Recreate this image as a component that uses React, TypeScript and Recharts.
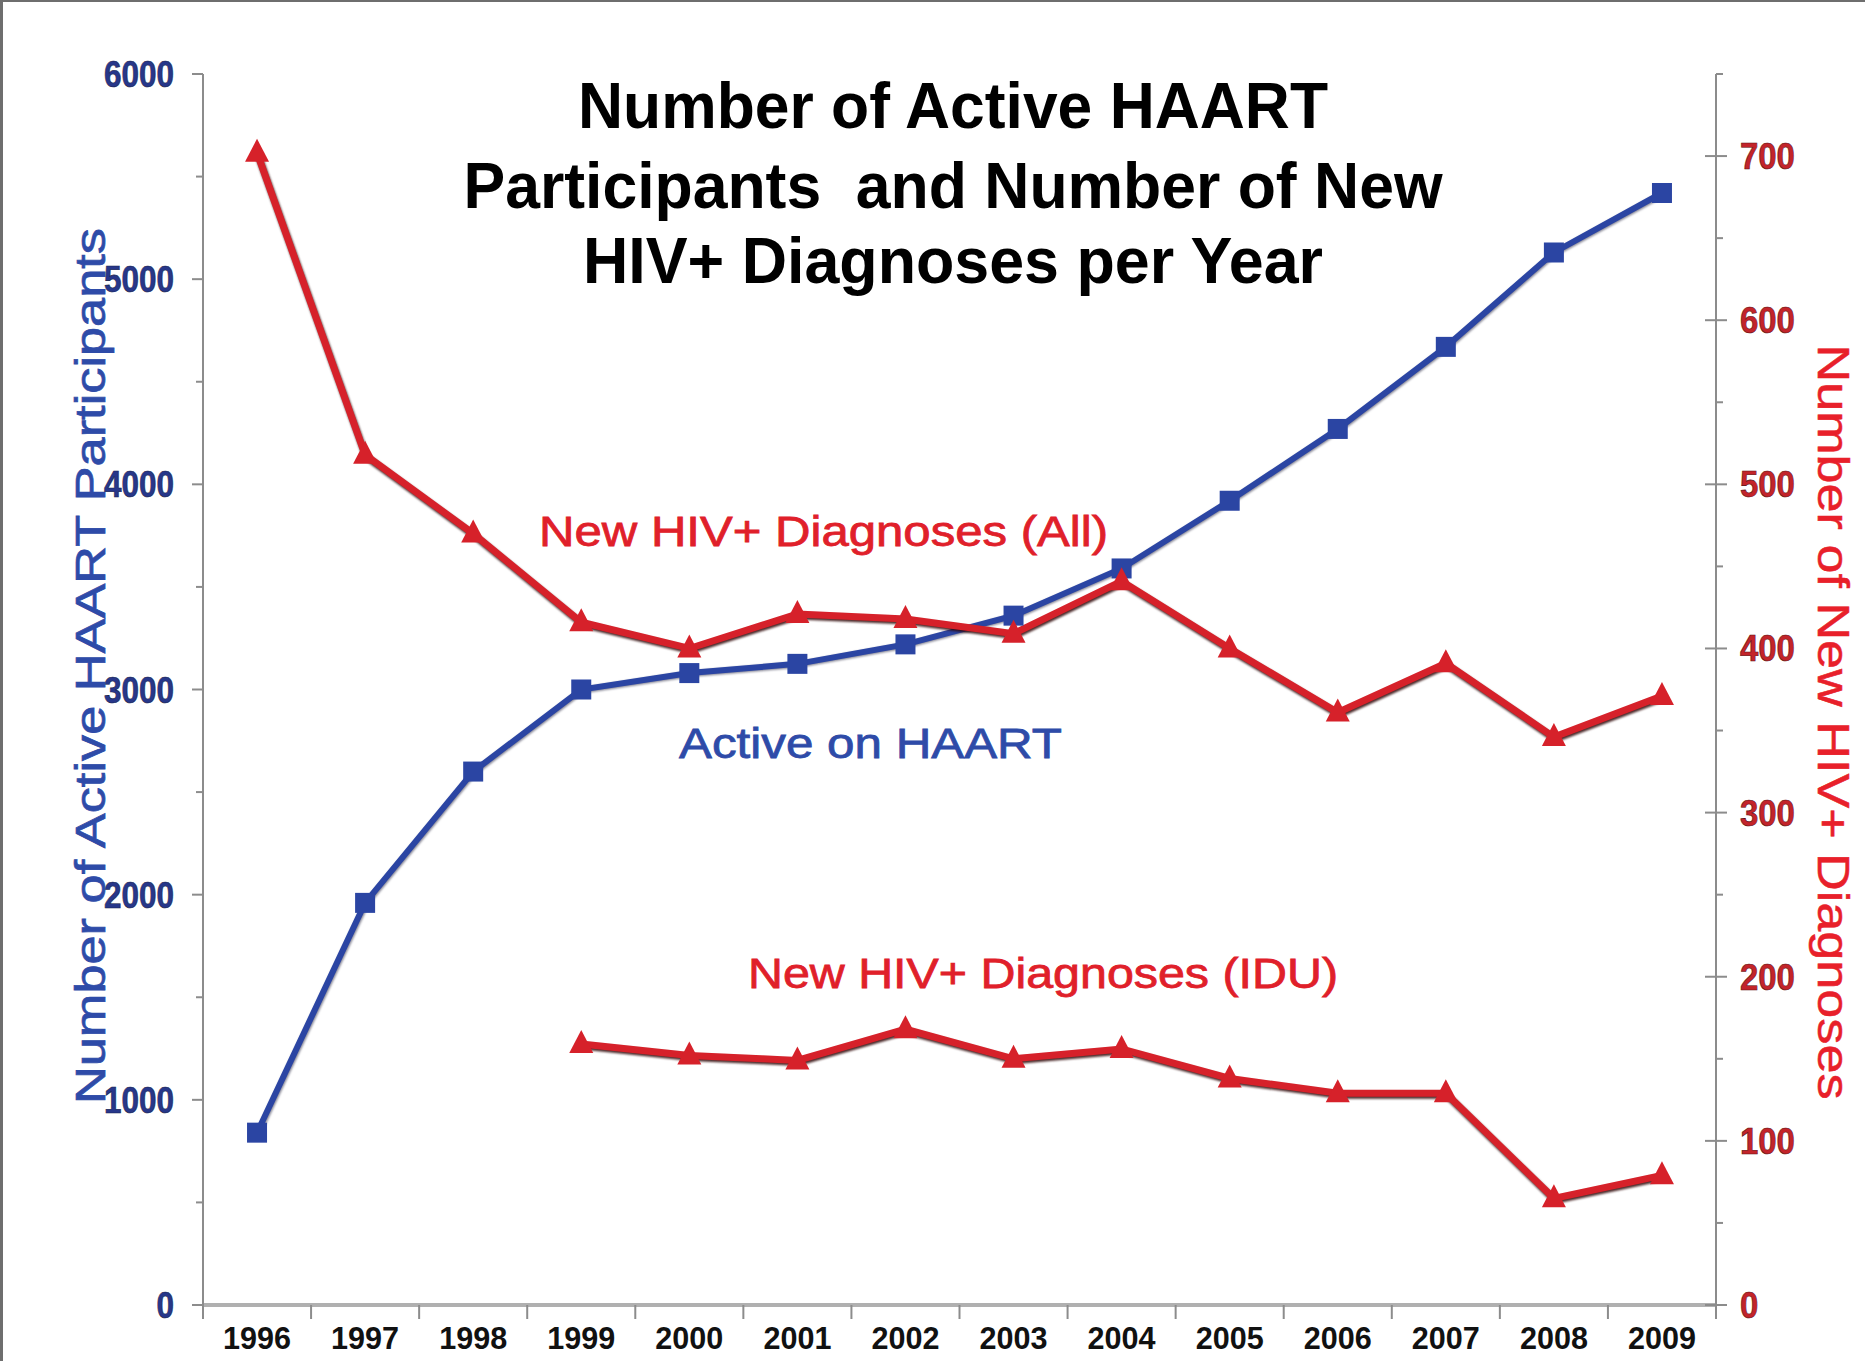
import React from 'react';
import { LineChart, Line, XAxis, YAxis } from 'recharts';

const years = [1996, 1997, 1998, 1999, 2000, 2001, 2002, 2003, 2004, 2005, 2006, 2007, 2008, 2009];
const activeOnHaart = [840, 1960, 2600, 3000, 3080, 3125, 3220, 3360, 3590, 3920, 4270, 4670, 5130, 5420];
const newDiagnosesAll = [702, 518, 470, 416, 400, 421, 418, 409, 441, 400, 361, 391, 346, 371];
const newDiagnosesIdu = [null, null, null, 159, 152, 149, 168, 150, 156, 138, 129, 129, 65, 79];

const leftTicks = [0, 500, 1000, 1500, 2000, 2500, 3000, 3500, 4000, 4500, 5000, 5500, 6000];
const rightTicks = [0, 50, 100, 150, 200, 250, 300, 350, 400, 450, 500, 550, 600, 650, 700, 750];

const W = 1865;
const H = 1361;
const PLOT_LEFT = 203;
const PLOT_RIGHT = 1716;
const HALF_BAND = (PLOT_RIGHT - PLOT_LEFT) / years.length / 2;

const BLUE = '#2b45a3';
const RED = '#d6212a';
const FONT = '"Liberation Sans", Arial, sans-serif';

const data = years.map((year, i) => ({
  year,
  active: activeOnHaart[i],
  all: newDiagnosesAll[i],
  idu: newDiagnosesIdu[i],
}));

function XTick(props: any) {
  const { x, y, payload, index } = props;
  const last = index === years.length - 1;
  return (
    <g>
      <line x1={x - HALF_BAND} x2={x - HALF_BAND} y1={y} y2={y + 14} stroke="#8c8c8c" strokeWidth={2} />
      {last && <line x1={x + HALF_BAND} x2={x + HALF_BAND} y1={y} y2={y + 14} stroke="#8c8c8c" strokeWidth={2} />}
      <text x={x} y={y + 44} textAnchor="middle" fontFamily={FONT} fontWeight="bold" fontSize={32}
        fill="#111" textLength={68} lengthAdjust="spacingAndGlyphs">{payload.value}</text>
    </g>
  );
}

function LeftTick(props: any) {
  const { x, y, payload } = props;
  const major = payload.value % 1000 === 0;
  const label = String(payload.value);
  return (
    <g>
      <line x1={x - (major ? 11 : 7)} x2={x} y1={y} y2={y} stroke="#8c8c8c" strokeWidth={2} />
      {major && (
        <text x={x - 29} y={y + 13} textAnchor="end" fontFamily={FONT} fontWeight="bold" fontSize={36}
          fill="#27378a" stroke="#1a1f4a" strokeWidth={0.6} textLength={17.5 * label.length}
          lengthAdjust="spacingAndGlyphs">{label}</text>
      )}
    </g>
  );
}

function RightTick(props: any) {
  const { x, y, payload } = props;
  const major = payload.value % 100 === 0;
  const label = String(payload.value);
  return (
    <g>
      <line x1={major ? x - 11 : x} x2={x + (major ? 11 : 7)} y1={y} y2={y} stroke="#8c8c8c" strokeWidth={2} />
      {major && (
        <text x={x + 24} y={y + 13} textAnchor="start" fontFamily={FONT} fontWeight="bold" fontSize={36}
          fill="#c3242a" stroke="#5a1010" strokeWidth={0.6} textLength={18.3 * label.length}
          lengthAdjust="spacingAndGlyphs">{label}</text>
      )}
    </g>
  );
}

function SquareDot(props: any) {
  const { cx, cy, index } = props;
  if (cx == null || cy == null) return <g key={`sq-${index}`} />;
  return <rect key={`sq-${index}`} x={cx - 10} y={cy - 10} width={20} height={20} fill={BLUE} />;
}

function TriangleDot(props: any) {
  const { cx, cy, index, dataKey } = props;
  if (cx == null || cy == null) return <g key={`tri-${dataKey}-${index}`} />;
  const pts = `${cx},${cy - 14} ${cx + 12},${cy + 9} ${cx - 12},${cy + 9}`;
  return <polygon key={`tri-${dataKey}-${index}`} points={pts} fill={RED} />;
}

function Overlay() {
  return (
    <svg width={W} height={H} style={{ position: 'absolute', left: 0, top: 0, pointerEvents: 'none' }}>
      <g fontFamily={FONT} fontWeight="bold" fontSize={64} fill="#000" textAnchor="middle">
        <text x={953} y={128} textLength={750} lengthAdjust="spacingAndGlyphs">Number of Active HAART</text>
        <text x={953} y={208} textLength={979} lengthAdjust="spacingAndGlyphs" xmlSpace="preserve"
          style={{ whiteSpace: 'pre' }}>{'Participants  and Number of New'}</text>
        <text x={953} y={283} textLength={740} lengthAdjust="spacingAndGlyphs">HIV+ Diagnoses per Year</text>
      </g>
      <text x={105} y={666} transform="rotate(-90 105 666)" textAnchor="middle" fontFamily={FONT}
        fontSize={43} fill="#2e4ba8" stroke="#2e4ba8" strokeWidth={0.7} textLength={876} lengthAdjust="spacingAndGlyphs">
        Number of Active HAART Participants
      </text>
      <text x={1818} y={722} transform="rotate(90 1818 722)" textAnchor="middle" fontFamily={FONT}
        fontSize={44} fill="#e8202a" stroke="#e8202a" strokeWidth={0.5} textLength={755} lengthAdjust="spacingAndGlyphs">
        Number of New HIV+ Diagnoses
      </text>
      <g fontFamily={FONT} fontSize={43} strokeWidth={0.8}>
        <text x={539} y={546} fill="#e0202a" stroke="#e0202a" textLength={569} lengthAdjust="spacingAndGlyphs">New HIV+ Diagnoses (All)</text>
        <text x={679} y={758} fill="#2e4ba8" stroke="#2e4ba8" textLength={383} lengthAdjust="spacingAndGlyphs">Active on HAART</text>
        <text x={748} y={988} fill="#e0202a" stroke="#e0202a" textLength={590} lengthAdjust="spacingAndGlyphs">New HIV+ Diagnoses (IDU)</text>
      </g>
    </svg>
  );
}

export default function App() {
  return (
    <div style={{ position: 'absolute', left: 0, top: 0, width: W, height: H, background: '#fff', overflow: 'hidden' }}>
      <style>{`
        .red-shadow { filter: drop-shadow(1px 2px 1px rgba(45, 5, 5, 0.85)); }
        .blue-shadow { filter: drop-shadow(1px 1px 1px rgba(10, 10, 40, 0.5)); }
      `}</style>
      <LineChart width={W} height={H} data={data} margin={{ top: 74, right: 49, bottom: 0, left: 103 }}>
        <XAxis dataKey="year" type="number" domain={[1995.5, 2009.5]} ticks={years} interval={0}
          tickSize={0} tickMargin={0} height={56} tick={<XTick />}
          axisLine={{ stroke: '#b0b0b0', strokeWidth: 4 }} />
        <YAxis yAxisId="left" orientation="left" domain={[0, 6000]} ticks={leftTicks} interval={0}
          width={100} tickSize={0} tickMargin={0} tick={<LeftTick />}
          axisLine={{ stroke: '#8c8c8c', strokeWidth: 2 }} />
        <YAxis yAxisId="right" orientation="right" domain={[0, 750]} ticks={rightTicks} interval={0}
          width={100} tickSize={0} tickMargin={0} tick={<RightTick />}
          axisLine={{ stroke: '#8c8c8c', strokeWidth: 2 }} />
        <Line yAxisId="left" dataKey="active" className="blue-shadow" stroke={BLUE} strokeWidth={6}
          dot={SquareDot} activeDot={false} isAnimationActive={false} />
        <Line yAxisId="right" dataKey="all" className="red-shadow" stroke={RED} strokeWidth={7}
          dot={TriangleDot} activeDot={false} isAnimationActive={false} />
        <Line yAxisId="right" dataKey="idu" className="red-shadow" stroke={RED} strokeWidth={7}
          dot={TriangleDot} activeDot={false} connectNulls={false} isAnimationActive={false} />
      </LineChart>
      <Overlay />
      <div style={{ position: 'absolute', left: 0, top: 0, width: W, height: H, borderLeft: '3px solid #6e6e6e',
        borderTop: '2px solid #6e6e6e', boxSizing: 'border-box', pointerEvents: 'none' }} />
    </div>
  );
}
